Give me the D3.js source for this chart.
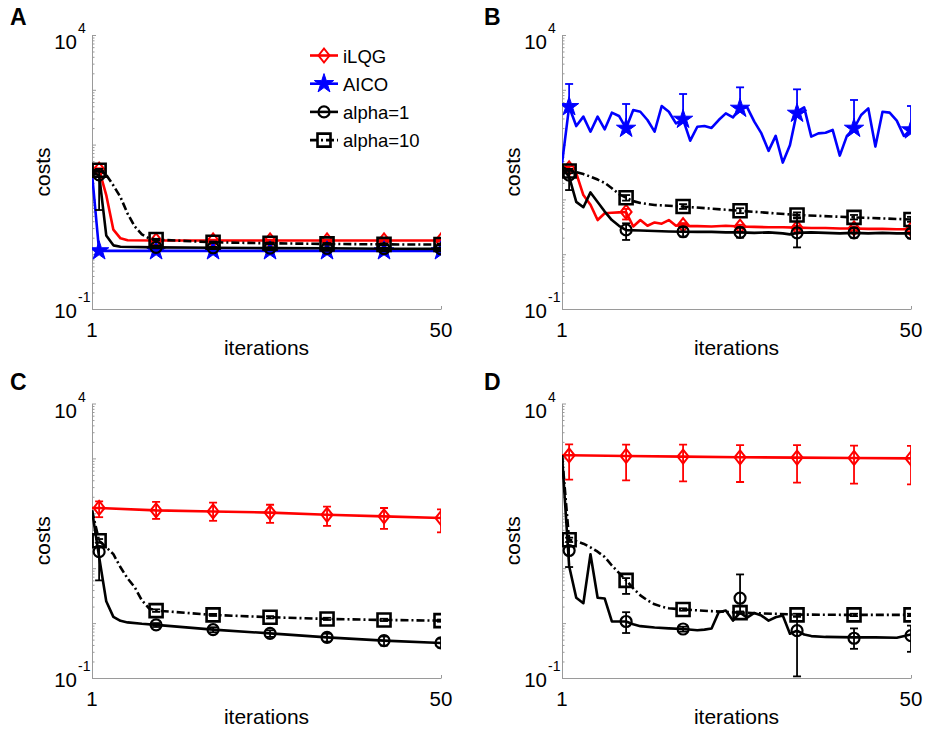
<!DOCTYPE html>
<html>
<head>
<meta charset="utf-8">
<style>
  body { margin: 0; background: #fff; }
  svg { display: block; font-family: "Liberation Sans", Arial, sans-serif; }
</style>
</head>
<body>
<script src="https://d3js.org/d3.v7.min.js"></script>
<script>
// iterations that carry a marker + error bar
const markerIters = [2, 10, 18, 26, 34, 42, 50]
const seriesNames = ['iLQG', 'AICO', 'alpha=1', 'alpha=10']
const panelLetters = ['A', 'B', 'C', 'D']
const xTicks = [1, 50]
const yExponents = [-1, 4]

// lines are [iteration, cost]; error bars are [mean, low, high] at markerIters
const A_ilqg_line = [[1,33],[2,35],[3,12],[4,2.8],[5,1.95],[6,1.8],[10,1.78],[50,1.78]]
const A_ilqg_err = [[35,33,37],[1.78,1.72,1.84],[1.78,1.72,1.84],[1.78,1.72,1.84],[1.78,1.72,1.84],[1.78,1.72,1.84],[1.78,1.72,1.84]]
const A_aico_line = [[1,30],[2,1.15],[50,1.15]]
const A_aico_err = [[1.15,1.12,1.18],[1.15,1.12,1.18],[1.15,1.12,1.18],[1.15,1.12,1.18],[1.15,1.12,1.18],[1.15,1.12,1.18],[1.15,1.12,1.18]]
const A_a1_line = [[1,30],[2,28],[3,2.2],[4,1.45],[5,1.37],[10,1.33],[18,1.31],[26,1.29],[34,1.28],[42,1.26],[50,1.25]]
const A_a1_err = [[28,6.4,32],[1.33,1.28,1.38],[1.31,1.26,1.36],[1.29,1.24,1.34],[1.28,1.23,1.33],[1.26,1.21,1.31],[1.25,1.2,1.3]]
const A_a10_line = [[1,34],[2,34],[3,28],[4,18],[5,11],[6,5.5],[7,3.2],[8,2.3],[9,1.95],[10,1.85],[18,1.65],[26,1.58],[34,1.54],[42,1.51],[50,1.5]]
const A_a10_err = [[34,32,36],[1.85,1.79,1.91],[1.65,1.6,1.7],[1.58,1.53,1.63],[1.54,1.49,1.59],[1.51,1.46,1.56],[1.5,1.45,1.55]]

const B_ilqg_line = [[1,39.5],[2,37],[3,30],[4,12],[5,8],[6,4.2],[7,5.6],[8,5.7],[9,5.8],[10,5.9],[11,3.2],[12,4.2],[13,3.3],[14,3.8],[15,3.6],[16,4.2],[17,3.3],[18,3.5],[19,3.25],[20,3.25],[22,3.2],[24,3.3],[26,3.2],[28,3.15],[30,3.1],[32,3.1],[34,3.05],[36,3.0],[38,3.0],[40,2.95],[42,2.95],[44,2.9],[46,2.9],[48,2.85],[50,2.85]]
const B_ilqg_err = [[37,34,40],[5.9,4.3,6.7],[3.4,3.1,3.7],[3.2,2.95,3.45],[3.05,2.8,3.3],[2.95,2.7,3.2],[2.85,2.6,3.1]]
const B_aico_line = [[1,45],[2,492],[3,218],[4,324],[5,172],[6,324],[7,190],[8,383],[9,333],[10,198],[11,428],[12,398],[13,281],[14,172],[15,506],[16,398],[17,244],[18,289],[19,118],[20,212],[21,219],[22,201],[23,281],[24,372],[25,314],[26,459],[27,479],[28,262],[29,160],[30,77],[31,144],[32,47],[33,97],[34,398],[35,479],[36,140],[37,160],[38,165],[39,185],[40,63],[41,144],[42,198],[43,347],[44,459],[45,92],[46,398],[47,383],[48,274],[49,144],[50,185]]
const B_aico_err = [[492,null,1277],[198,null,551],[289,null,838],[459,null,1109],[372,null,1020],[198,null,652],[185,null,506]]
const B_a1_line = [[1,37],[2,26],[3,9],[4,7.2],[5,13.4],[6,9],[7,6],[8,4.2],[9,3.3],[10,2.75],[12,2.7],[14,2.65],[16,2.6],[18,2.57],[20,2.55],[22,2.55],[24,2.5],[26,2.5],[28,2.45],[30,2.5],[32,2.4],[33,2.3],[34,2.45],[36,2.5],[38,2.45],[40,2.4],[42,2.45],[44,2.4],[46,2.45],[48,2.4],[50,2.4]]
const B_a1_err = [[27.8,14.8,33],[2.77,1.82,3.66],[2.57,2.1,3.1],[2.5,2.0,3.05],[2.45,1.33,4.5],[2.45,2.0,3.0],[2.4,1.95,2.9]]
const B_a10_line = [[1,39.5],[2,33],[3,31.5],[4,29],[5,26],[6,23],[7,20],[8,16],[9,12.5],[10,10.7],[11,9.3],[12,8.6],[14,7.9],[18,7.4],[26,6.2],[34,5.2],[42,4.7],[50,4.3]]
const B_a10_err = [[33,30,36],[10.7,9.5,12],[7.4,6.7,8.2],[6.2,5.6,6.9],[5.2,4.7,5.8],[4.7,4.3,5.2],[4.3,3.9,4.8]]

const C_ilqg_line = [[1,125],[2,125],[10,113],[18,108],[26,103],[34,94],[42,88],[50,82]]
const C_ilqg_err = [[125,85,165],[113,79,161],[108,73,156],[103,67,143],[94,59,132],[88,52,125],[82,45,118]]
const C_a1_line = [[1,113],[2,16],[3,2.5],[4,1.3],[5,1.1],[6,1.03],[8,0.97],[10,0.93],[18,0.76],[26,0.65],[34,0.55],[42,0.48],[50,0.435]]
const C_a1_err = [[20,6,25],[0.93,0.85,1.0],[0.76,0.68,0.84],[0.65,0.56,0.74],[0.55,0.46,0.64],[0.48,0.39,0.57],[0.435,0.36,0.52]]
const C_a10_line = [[1,113],[2,31.6],[3,24],[4,18],[5,10.4],[6,6.5],[7,4.5],[8,2.6],[9,1.85],[10,1.69],[18,1.41],[26,1.28],[34,1.19],[42,1.14],[50,1.11]]
const C_a10_err = [[31.6,29,34],[1.69,1.6,1.78],[1.41,1.35,1.47],[1.28,1.22,1.34],[1.19,1.14,1.25],[1.14,1.09,1.2],[1.11,1.06,1.16]]

const D_ilqg_line = [[1,1140],[2,1140],[10,1109],[18,1079],[26,1048],[34,1035],[42,1020],[50,1000]]
const D_ilqg_err = [[1140,410,1807],[1109,398,1786],[1079,383,1786],[1048,372,1738],[1035,361,1738],[1020,347,1714],[1000,337,1690]]
const D_a1_line = [[1,1140],[2,11],[3,2.9],[4,2.3],[5,18],[6,2.9],[7,2.8],[8,1.07],[9,1.07],[10,1.07],[11,0.95],[12,0.88],[14,0.83],[16,0.8],[18,0.78],[20,0.74],[21,0.76],[22,0.8],[23,1.57],[24,1.69],[25,1.11],[26,1.55],[27,1.26],[28,1.53],[29,1.37],[30,1.11],[31,1.28],[32,1.37],[33,0.64],[34,0.73],[35,0.62],[36,0.58],[38,0.56],[42,0.55],[45,0.55],[48,0.54],[50,0.62]]
const D_a1_err = [[21,10.5,25],[1.07,0.66,1.58],[0.78,0.7,0.86],[2.84,1.6,7.7],[0.73,0.107,1.3],[0.53,0.34,0.8],[0.59,0.3,0.9]]
const D_a10_line = [[1,1140],[2,33],[3,31],[4,28],[5,24],[6,20],[7,16],[8,11.2],[9,8.2],[10,6.0],[11,4.3],[12,3.2],[13,2.6],[14,2.2],[15,2.0],[16,1.86],[18,1.77],[22,1.65],[26,1.55],[34,1.43],[42,1.41],[50,1.41]]
const D_a10_err = [[33,30,36],[6.0,3.4,6.6],[1.77,1.68,1.86],[1.55,1.47,1.63],[1.41,1.34,1.48],[1.41,1.34,1.48],[1.41,1.34,1.48]]

const styles = {
    ilqg: {color: '#ff0000', dash: null, marker: 'diamond'},
    aico: {color: '#0000ff', dash: null, marker: 'star'},
    a1: {color: '#000000', dash: null, marker: 'circle'},
    a10: {color: '#000000', dash: '8,3,2,3', marker: 'square'}
}
const legendKeys = ['ilqg', 'aico', 'a1', 'a10']

const panels = [
    {x0: 92, x1: 441, y0: 35, y1: 309, lx: 10, ly: 25, legend: true,
     series: [['ilqg', A_ilqg_line, A_ilqg_err], ['aico', A_aico_line, A_aico_err], ['a1', A_a1_line, A_a1_err], ['a10', A_a10_line, A_a10_err]]},
    {x0: 562, x1: 911, y0: 35, y1: 309, lx: 484, ly: 25,
     series: [['ilqg', B_ilqg_line, B_ilqg_err], ['aico', B_aico_line, B_aico_err], ['a1', B_a1_line, B_a1_err], ['a10', B_a10_line, B_a10_err]]},
    {x0: 92, x1: 441, y0: 403.5, y1: 678, lx: 10, ly: 390,
     series: [['ilqg', C_ilqg_line, C_ilqg_err], ['a1', C_a1_line, C_a1_err], ['a10', C_a10_line, C_a10_err]]},
    {x0: 562, x1: 911, y0: 403.5, y1: 678, lx: 484, ly: 390,
     series: [['ilqg', D_ilqg_line, D_ilqg_err], ['a1', D_a1_line, D_a1_err], ['a10', D_a10_line, D_a10_err]]}
]

const w = 926
const h = 731
const axisColor = '#9a9a9a'

const svg = d3.select('body')
    .append('svg')
    .attr('width', w)
    .attr('height', h)

svg.append('rect').attr('width', w).attr('height', h).attr('fill', '#fff')

const starPath = d3.symbol(d3.symbolStar, 115)()
const squarePath = d3.symbol(d3.symbolSquare, 169)()

function drawMarker(g, kind, color) {
    if (kind === 'diamond') {
        g.append('path').attr('d', 'M0,-7L5.5,0L0,7L-5.5,0Z')
            .attr('fill', 'none').attr('stroke', color).attr('stroke-width', 2)
    } else if (kind === 'star') {
        g.append('path').attr('d', starPath).attr('fill', color).attr('stroke', color).attr('stroke-width', 1)
    } else if (kind === 'circle') {
        g.append('circle').attr('r', 5.5)
            .attr('fill', 'none').attr('stroke', color).attr('stroke-width', 2.2)
    } else {
        g.append('path').attr('d', squarePath)
            .attr('fill', 'none').attr('stroke', color).attr('stroke-width', 2.6)
    }
}

panels.forEach((p, pi) => {
    const x = d3.scaleLinear().domain([1, 50]).range([p.x0, p.x1])
    const y = d3.scaleLog().domain([0.1, 10000]).range([p.y1, p.y0])

    // panel letter
    svg.append('text')
        .attr('x', p.lx).attr('y', p.ly)
        .attr('font-size', 23).attr('font-weight', 'bold')
        .text(panelLetters[pi])

    // log ticks (decades plus minor)
    const minor = []
    for (let e = -1; e < 4; e++) {
        for (let m = 2; m <= 9; m++) minor.push(m * Math.pow(10, e))
    }
    const major = [0.1, 1, 10, 100, 1000, 10000]

    svg.append('g')
        .attr('transform', 'translate(' + p.x0 + ',0)')
        .call(d3.axisLeft(y).tickValues(minor).tickSize(-2.5).tickSizeOuter(0).tickFormat(''))
        .call(g => g.selectAll('line').attr('stroke', axisColor))
        .call(g => g.select('.domain').attr('stroke', axisColor))

    svg.append('g')
        .attr('transform', 'translate(' + p.x0 + ',0)')
        .call(d3.axisLeft(y).tickValues(major).tickSize(-4).tickSizeOuter(0).tickFormat(''))
        .call(g => g.selectAll('line').attr('stroke', axisColor))
        .call(g => g.select('.domain').remove())

    svg.append('g')
        .attr('transform', 'translate(0,' + p.y1 + ')')
        .call(d3.axisBottom(x).tickValues(xTicks).tickSize(-3).tickSizeOuter(0).tickFormat(''))
        .call(g => g.selectAll('line').attr('stroke', axisColor))
        .call(g => g.select('.domain').attr('stroke', axisColor))

    // y tick labels 10^e
    yExponents.forEach(e => {
        const ty = y(Math.pow(10, e))
        const base = ty + (e === 4 ? 14 : 9)
        svg.append('text')
            .attr('x', p.x0 - 15).attr('y', base)
            .attr('text-anchor', 'end').attr('font-size', 20.5)
            .text('10')
        svg.append('text')
            .attr('x', p.x0 - 14).attr('y', base - 16)
            .attr('font-size', 14)
            .text(String(e))
    })

    // x tick labels
    xTicks.forEach(t => {
        svg.append('text')
            .attr('x', x(t)).attr('y', p.y1 + 28)
            .attr('text-anchor', 'middle').attr('font-size', 20.5)
            .text(t)
    })

    svg.append('text')
        .attr('x', (p.x0 + p.x1) / 2).attr('y', p.y1 + 46)
        .attr('text-anchor', 'middle').attr('font-size', 21)
        .text('iterations')

    svg.append('text')
        .attr('transform', 'translate(' + (p.x0 - 42) + ',' + (p.y0 + p.y1) / 2 + ') rotate(-90)')
        .attr('text-anchor', 'middle').attr('font-size', 21)
        .text('costs')

    // data area
    const clipId = 'clip' + pi
    svg.append('clipPath').attr('id', clipId)
        .append('rect')
        .attr('x', p.x0).attr('y', p.y0 - 10)
        .attr('width', p.x1 - p.x0).attr('height', p.y1 - p.y0 + 10)

    const plot = svg.append('g').attr('clip-path', 'url(#' + clipId + ')')

    const line = d3.line().x(d => x(d[0])).y(d => y(d[1]))

    p.series.forEach(([key, lineData, errData]) => {
        const st = styles[key]
        plot.append('path')
            .datum(lineData)
            .attr('d', line)
            .attr('fill', 'none')
            .attr('stroke', st.color)
            .attr('stroke-width', 2.6)
            .attr('stroke-linejoin', 'round')
            .attr('stroke-dasharray', st.dash)

        errData.forEach((d, i) => {
            const cx = x(markerIters[i])
            const lo = d[1] === null ? d[0] : d[1]
            const eb = plot.append('g').attr('stroke', st.color).attr('stroke-width', 1.8)
            eb.append('line').attr('x1', cx).attr('x2', cx).attr('y1', y(lo)).attr('y2', y(d[2]))
            eb.append('line').attr('x1', cx - 4).attr('x2', cx + 4).attr('y1', y(d[2])).attr('y2', y(d[2]))
            if (d[1] !== null) {
                eb.append('line').attr('x1', cx - 4).attr('x2', cx + 4).attr('y1', y(d[1])).attr('y2', y(d[1]))
            }
            const mg = plot.append('g').attr('transform', 'translate(' + cx + ',' + y(d[0]) + ')')
            drawMarker(mg, st.marker, st.color)
        })
    })

    if (p.legend) {
        legendKeys.forEach((key, i) => {
            const st = styles[key]
            const ry = 55.5 + i * 28.2
            svg.append('line')
                .attr('x1', 310).attr('x2', 338).attr('y1', ry).attr('y2', ry)
                .attr('stroke', st.color).attr('stroke-width', 2.6)
                .attr('stroke-dasharray', st.dash)
            drawMarker(svg.append('g').attr('transform', 'translate(324,' + ry + ')'), st.marker, st.color)
            svg.append('text')
                .attr('x', 343).attr('y', ry + 7)
                .attr('font-size', 18.5)
                .text(seriesNames[i])
        })
    }
})
</script>
</body>
</html>
